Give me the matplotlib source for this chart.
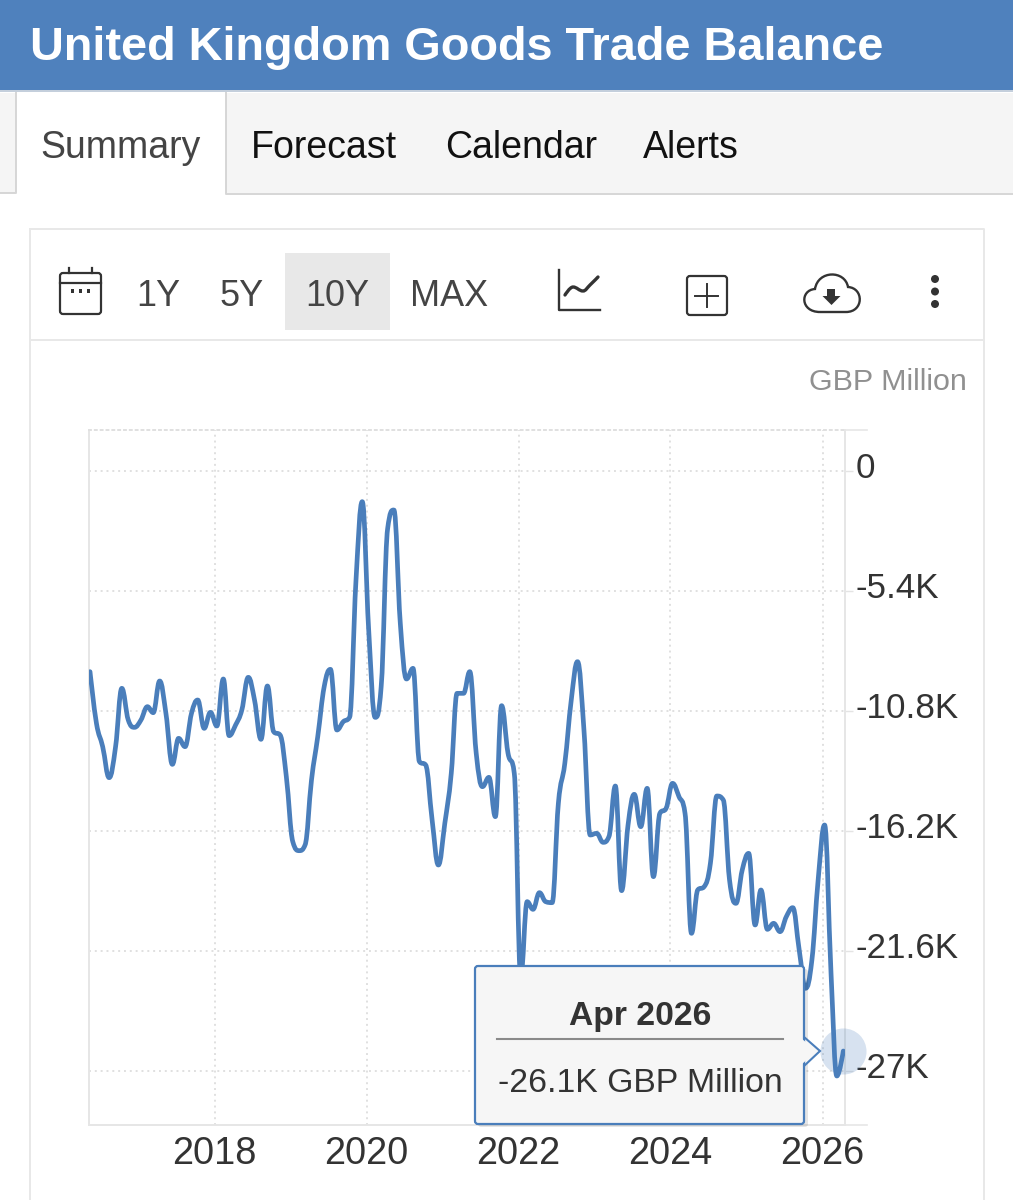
import numpy as np
import pandas as pd
import matplotlib
matplotlib.use('Agg')
import matplotlib.pyplot as plt
import matplotlib.dates as mdates
from matplotlib.path import Path
from matplotlib.patches import PathPatch, Rectangle, FancyBboxPatch, Polygon, Circle
from matplotlib.transforms import ScaledTranslation

plt.rcParams['font.family'] = ['Liberation Sans', 'DejaVu Sans']

#%% Data, GBP million, monthly from May 2016 to Apr 2026
balance = [
    -9030, -11355, -12405, -13800, -12405, -9780, -11205, -11535, -11205, -10605,
    -10875, -9450, -10905, -13200, -12030, -12405, -10905, -10305, -11580, -10860,
    -11475, -9360, -11910, -11430, -10755, -9285, -10305, -12075, -9675, -11730,
    -11880, -13755, -16680, -17085, -16830, -13905, -11955, -9705, -8925, -11655,
    -11280, -11085, -4905, -1380, -7155, -11085, -9705, -2600, -1755, -6855,
    -9360, -8880, -13080, -13230, -15705, -17730, -15855, -13605, -10005, -10005,
    -9030, -12705, -14205, -13785, -15555, -10560, -12705, -13605, -22755, -19380,
    -19725, -18975, -19380, -19425, -14955, -13155, -10305, -8580, -11655, -16380,
    -16305, -16710, -16455, -14175, -18885, -15930, -14550, -16005, -14280, -18255,
    -15405, -15180, -14055, -14655, -15405, -20805, -18855, -18705, -17655, -14625,
    -14805, -18405, -19455, -17955, -17205, -20430, -18855, -20625, -20355, -20730,
    -20055, -19650, -21555, -23280, -22005, -18405, -15930, -22605, -27225, -26100,
]
months = pd.date_range('2016-05-01', periods=len(balance), freq='MS')

y_ticks = [0, -5400, -10800, -16200, -21600, -27000]
y_labels = ['0', '-5.4K', '-10.8K', '-16.2K', '-21.6K', '-27K']
x_years = [2018, 2020, 2022, 2024, 2026]

title = 'United Kingdom Goods Trade Balance'
tabs = ['Forecast', 'Calendar', 'Alerts']
ranges = ['1Y', '5Y', '10Y', 'MAX']
BLUE = '#4a7ebb'


def spline_path(x, y, smooth=1.5):
    # cubic segments through the points, same idea as a Highcharts spline
    verts = [(x[0], y[0])]
    codes = [Path.MOVETO]
    n = len(x)
    lc = np.zeros((n, 2))
    rc = np.zeros((n, 2))
    for i in range(n):
        if i == 0 or i == n - 1:
            lc[i] = rc[i] = x[i], y[i]
            continue
        d = smooth + 1
        lx, ly = (smooth * x[i] + x[i-1]) / d, (smooth * y[i] + y[i-1]) / d
        rx, ry = (smooth * x[i] + x[i+1]) / d, (smooth * y[i] + y[i+1]) / d
        corr = (ry - ly) * (rx - x[i]) / (rx - lx) + y[i] - ry
        ly += corr
        ry += corr
        # no overshoot past the neighbours
        if ly > max(y[i-1], y[i]):
            ly = max(y[i-1], y[i])
            ry = 2 * y[i] - ly
        elif ly < min(y[i-1], y[i]):
            ly = min(y[i-1], y[i])
            ry = 2 * y[i] - ly
        if ry > max(y[i+1], y[i]):
            ry = max(y[i+1], y[i])
            ly = 2 * y[i] - ry
        elif ry < min(y[i+1], y[i]):
            ry = min(y[i+1], y[i])
            ly = 2 * y[i] - ry
        lc[i] = lx, ly
        rc[i] = rx, ry
    for i in range(1, n):
        verts += [tuple(rc[i-1]), tuple(lc[i]), (x[i], y[i])]
        codes += [Path.CURVE4] * 3
    return Path(verts, codes)


W, H = 1013, 1200
fig = plt.figure(figsize=(W / 100, H / 100), dpi=100, facecolor='white')


def px(size):
    return size * 0.72


#%% Chart
ax = fig.add_axes([89 / W, 1 - 1125 / H, (845 - 89) / W, (1125 - 430) / H])
xn = mdates.date2num(months)
per_px = (xn[-1] - xn[0]) / (843.3 - 90)
ax.set_xlim(xn[0] - per_px, xn[-1] + 1.7 * per_px)
ax.set_ylim(-(1125 - 471) * 45, (471 - 430) * 45)

ax.add_patch(PathPatch(spline_path(xn, np.array(balance, float)), fill=False,
                       edgecolor=BLUE, lw=px(4.7), capstyle='round', joinstyle='round', zorder=3))
ax.scatter(xn[-1], balance[-1], s=1100, color=BLUE, alpha=0.22, lw=0, zorder=4, clip_on=False)

ax.set_yticks(y_ticks)
ax.set_yticklabels(y_labels)
# the year gridlines sit a little before 1 January on the source chart
ax.set_xticks(mdates.date2num([pd.Timestamp(f'{yr - 1}-12-22') for yr in x_years]))
ax.set_xticklabels([str(yr) for yr in x_years])
ax.yaxis.tick_right()
ax.tick_params(axis='y', length=6, width=1, color='#e4e4e4', labelsize=px(35),
               labelcolor='#333333', pad=1.5)
ax.tick_params(axis='x', length=0, labelsize=px(38), labelcolor='#333333', pad=8)
label_shift = ScaledTranslation(0, 2 / 100, fig.dpi_scale_trans)
for lab in ax.get_yticklabels():
    lab.set_verticalalignment('center')
    lab.set_transform(lab.get_transform() + label_shift)
ax.grid(True, color='#e0e0e0', lw=1.4, linestyle=(0, (1, 2)))
ax.set_axisbelow(True)
for side in ['left', 'right', 'bottom']:
    ax.spines[side].set_color('#e6e6e6')
    ax.spines[side].set_linewidth(1.4)
ax.spines['top'].set_color('#e0e0e0')
ax.spines['top'].set_linewidth(1.4)
ax.spines['top'].set_linestyle((0, (1, 2)))

#%% Page chrome, drawn in pixel coordinates on top
ui = fig.add_axes([0, 0, 1, 1], zorder=10)
ui.set_xlim(0, W)
ui.set_ylim(H, 0)
ui.axis('off')
ui.patch.set_alpha(0)


def rect(x0, y0, x1, y1, fc='none', ec='none', lw=1.0, z=1):
    ui.add_patch(Rectangle((x0, y0), x1 - x0, y1 - y0, facecolor=fc, edgecolor=ec, lw=lw, zorder=z))


# axis stubs right of the plot area
ui.plot([845, 867], [430, 430], color='#e6e6e6', lw=1.2)
ui.plot([845, 867], [1125, 1125], color='#e6e6e6', lw=1.2)

# header and tabs
rect(0, 93, W, 193, fc='#f5f5f5')
rect(16, 90, 226, 197, fc='white', z=1.5)
ui.plot([0, 16, 16], [193, 193, 92], color='#d6d6d6', lw=1.4, zorder=2)
ui.plot([226, 226, W], [92, 194, 194], color='#d6d6d6', lw=1.4, zorder=2)
rect(0, 0, W, 90, fc='#4f81bd', z=3)
rect(0, 90, W, 92, fc='#c4cfdc', z=3)
ui.text(30, 48, title, color='white', fontsize=px(46.9), fontweight='bold', va='center', ha='left', zorder=4)
ui.text(40, 148, 'Summary', color='#444444', fontsize=px(37.5), va='center', zorder=4)
for label, xpos in zip(tabs, [251, 445, 643]):
    ui.text(xpos, 148, label, color='#111111', fontsize=px(37.5), va='center', zorder=4)

# chart box and toolbar
ui.plot([30, 30], [H, 229], color='#e8e8e8', lw=1.4, zorder=2)
ui.plot([30, 984, 984], [229, 229, H], color='#e8e8e8', lw=1.4, zorder=2)
ui.plot([30, 984], [340, 340], color='#e8e8e8', lw=1.4, zorder=2)
rect(285, 253, 390, 330, fc='#e8e8e8')
for label, xpos in zip(ranges, [158, 242, 337, 449]):
    ui.text(xpos, 296, label, color='#444444', fontsize=px(36), va='center', ha='center')
ui.text(967, 382, 'GBP Million', color='#909090', fontsize=px(30.5), va='center', ha='right')

# calendar icon
ICON = '#333333'
ui.add_patch(FancyBboxPatch((60, 273), 41, 41, boxstyle='round,pad=0,rounding_size=3', fc='none', ec=ICON, lw=1.6))
ui.plot([60, 101], [283, 283], color=ICON, lw=1.6)
ui.plot([69, 69], [268, 273], color=ICON, lw=1.6)
ui.plot([92, 92], [268, 273], color=ICON, lw=1.6)
for xd in [72, 80, 88]:
    rect(xd - 1.5, 289, xd + 2, 293, fc=ICON)

# line chart icon
ui.plot([559, 559, 600], [270, 310, 310], color=ICON, lw=1.7)
ui.add_patch(PathPatch(spline_path(np.array([565., 573, 583, 590, 598]), np.array([295., 287, 291, 285, 277])),
                       fill=False, ec=ICON, lw=2.4, capstyle='round'))

# plus icon
ui.add_patch(FancyBboxPatch((687, 276), 40, 39, boxstyle='round,pad=0,rounding_size=3', fc='none', ec=ICON, lw=1.6))
ui.plot([706.7, 706.7], [284, 307], color=ICON, lw=1.4)
ui.plot([695, 718], [295.7, 295.7], color=ICON, lw=1.4)

# cloud icon
cloud = Path([(820, 312), (800, 312), (800, 290), (815, 289), (818, 270), (845, 270), (848, 287),
              (864, 288), (864, 312), (846, 312), (820, 312)],
             [Path.MOVETO, Path.CURVE4, Path.CURVE4, Path.CURVE4, Path.CURVE4, Path.CURVE4, Path.CURVE4,
              Path.CURVE4, Path.CURVE4, Path.CURVE4, Path.LINETO])
ui.add_patch(PathPatch(cloud, fc='none', ec=ICON, lw=1.7))
rect(827, 289, 835, 297, fc=ICON)
ui.add_patch(Polygon([(822.5, 296), (840.5, 296), (831.5, 305)], fc=ICON, ec='none'))

# menu dots
for yd in [279, 291.5, 304]:
    ui.add_patch(Circle((935, yd), 4, fc=ICON, ec='none'))

# tooltip
ui.add_patch(FancyBboxPatch((478, 969), 330, 158, boxstyle='round,pad=0,rounding_size=3', fc='#000000',
                            ec='none', alpha=0.10, zorder=5))
ui.add_patch(Polygon([(804, 1037), (820, 1051), (804, 1066)], fc='#f6f6f6', ec=BLUE, lw=1.5, zorder=6))
ui.add_patch(FancyBboxPatch((475, 966), 329, 158, boxstyle='round,pad=0,rounding_size=3', fc='#f6f6f6',
                            ec=BLUE, lw=1.6, zorder=7))
ui.add_patch(Polygon([(802, 1039), (817, 1051), (802, 1064)], fc='#f6f6f6', ec='none', zorder=8))
ui.plot([497, 783], [1039, 1039], color='#8a8a8a', lw=1.5, zorder=8)
ui.text(640, 1016, 'Apr 2026', color='#333333', fontsize=px(33.7), fontweight='bold', ha='center', va='center', zorder=9)
ui.text(640, 1083, '-26.1K GBP Million', color='#333333', fontsize=px(33.8), ha='center', va='center', zorder=9)

fig.savefig('out.png', dpi=100, facecolor='white')
